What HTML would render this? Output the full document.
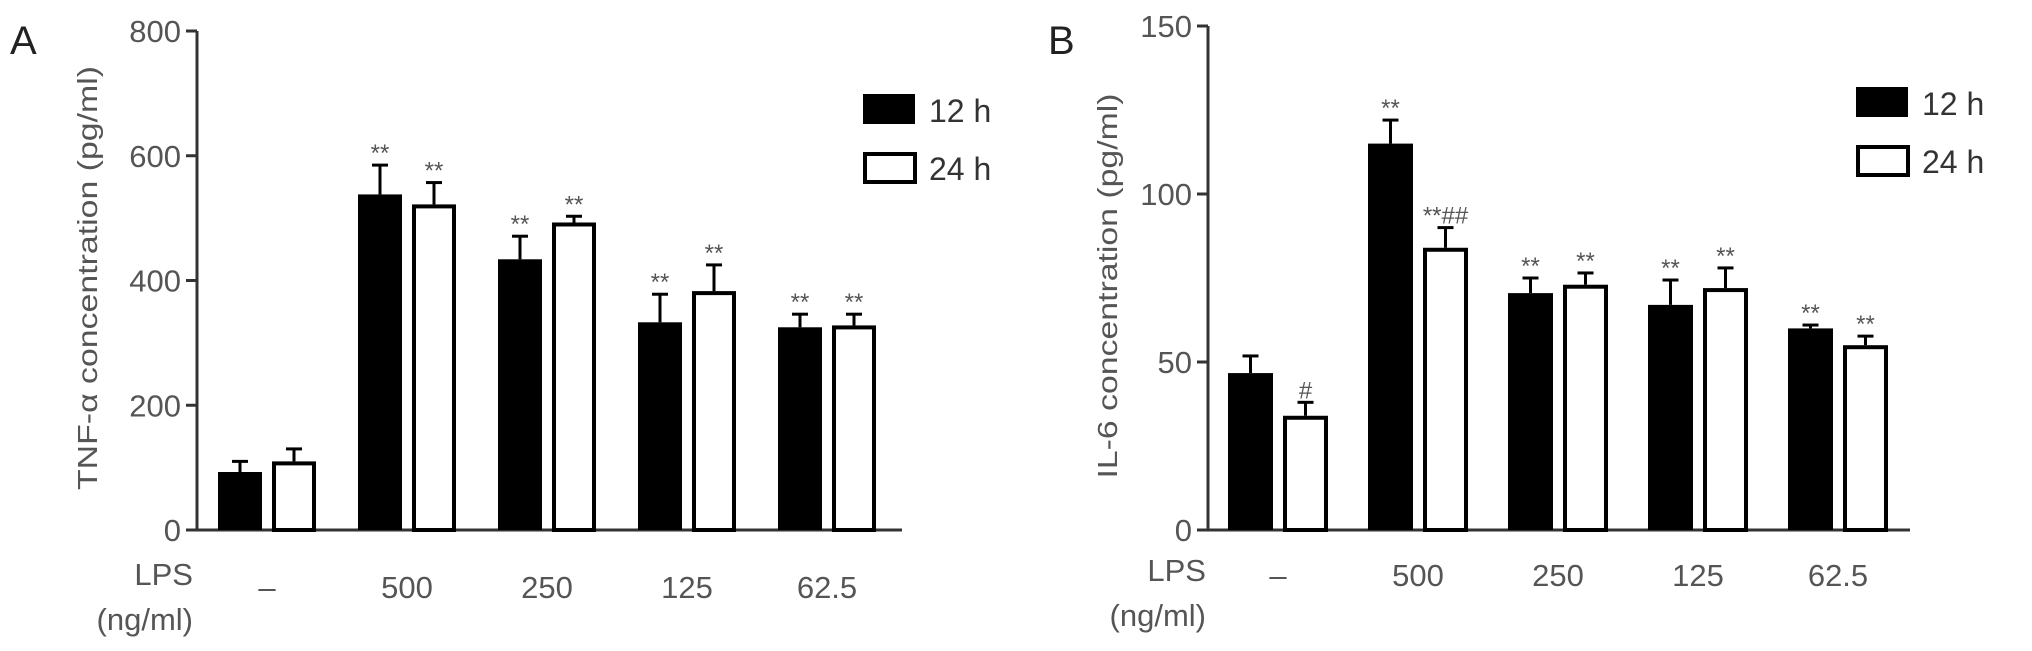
<!DOCTYPE html>
<html><head><meta charset="utf-8"><style>
html,body{margin:0;padding:0;background:#fff;}
svg{display:block;font-family:"Liberation Sans",Arial,sans-serif;}
</style></head><body>
<svg id="fig" width="2032" height="651" viewBox="0 0 2032 651"></svg>
<script>
const categories = ["\u2013","500","250","125","62.5"];
const seriesNames = ["12 h","24 h"];
const tnf12 = [93, 538, 434, 333, 325];
const tnf12Err = [110, 585, 471, 378, 346];
const tnf24 = [110, 522, 493, 383, 328];
const tnf24Err = [130, 557, 503, 425, 346];
const tnf12Sig = ["", "**", "**", "**", "**"];
const tnf24Sig = ["", "**", "**", "**", "**"];
const tnfTicks = [0, 200, 400, 600, 800];
const il12 = [46.7, 115, 70.5, 67, 60];
const il12Err = [51.8, 122, 75, 74.4, 61];
const il24 = [34, 84, 73, 72, 55];
const il24Err = [38, 90, 76.5, 78, 57.7];
const il12Sig = ["", "**", "**", "**", "**"];
const il24Sig = ["#", "**##", "**", "**", "**"];
const ilTicks = [0, 50, 100, 150];

const NS = "http://www.w3.org/2000/svg";
const svg = document.getElementById("fig");
function mk(tag, attrs, parent, text){
  const e = document.createElementNS(NS, tag);
  for (const k in attrs) e.setAttribute(k, attrs[k]);
  if (text !== undefined) e.textContent = text;
  (parent || svg).appendChild(e);
  return e;
}

function panel(p){
  const g = mk("g", {});
  
  
  const y = v => p.y0 - (v - 0) / p.max * (p.y0 - p.yTop);
  const gx = i => p.g0 + i * p.period;
  const L = mk("text", {x:p.letterX, y:54, "font-size":40, fill:"#222"}, g, p.letter);
  
  
  const ya = mk("line", {x1:p.ax, y1:p.yTop, x2:p.ax, y2:p.y0 + 1.5, stroke:"#333", "stroke-width":3}, g);
  
  
  const xa = mk("line", {x1:p.ax - 11, y1:p.y0, x2:p.xEnd, y2:p.y0, stroke:"#333", "stroke-width":3}, g);
  
  
  p.ticks.forEach(t => {
    const tl = mk("line", {x1:p.ax - 11, y1:y(t), x2:p.ax, y2:y(t), stroke:"#333", "stroke-width":3}, g);
    
    
    const tt = mk("text", {x:p.ax - 16, y:y(t) + 11, "font-size":31, fill:"#555", "text-anchor":"end"}, g, String(t));
    
    
  });
  const yt = mk("text", {x:0, y:0, "font-size":28, fill:"#555", "text-anchor":"middle",
    transform:`translate(${p.ytX},${p.ytY}) rotate(-90)`, textLength:p.ytLen, lengthAdjust:"spacingAndGlyphs"}, g, p.yTitle);
  
  
  const series = [[p.s1, p.e1, p.sig1, 0], [p.s2, p.e2, p.sig2, 1]];
  categories.forEach((c, i) => {
    series.forEach(([vals, errs, sigs, si]) => {
      const bx = gx(i) + si * p.step;
      const cx = bx + p.bw / 2;
      const top = y(vals[i]);
      const et = y(errs[i]);
      const el = mk("line", {x1:cx, y1:top, x2:cx, y2:et, stroke:"#000", "stroke-width":3}, g);
      
      
      const ec = mk("line", {x1:cx - 8, y1:et, x2:cx + 8, y2:et, stroke:"#000", "stroke-width":3}, g);
      
      
      let r;
      if (si === 0) r = mk("rect", {x:bx, y:top, width:p.bw, height:p.y0 - top, fill:"#000"}, g);
      else r = mk("rect", {x:bx + 2, y:top + 2, width:p.bw - 4, height:p.y0 - top - 2, fill:"#fff", stroke:"#000", "stroke-width":4}, g);
      
      
      if (sigs[i]) {
        const s = mk("text", {x:cx, y:et - 4, "font-size":24, fill:"#555", "text-anchor":"middle"}, g, sigs[i]);
        
        
      }
    });
    const xl = mk("text", {x:gx(i) + p.step / 2 + p.bw / 2, y:p.catY, "font-size":31, fill:"#555", "text-anchor":"middle"}, g, c);
    
    
  });
  const lps = mk("text", {x:p.lpsX, y:p.lpsY, "font-size":31, fill:"#555", "text-anchor":"end"}, g, "LPS");
  
  
  const un = mk("text", {x:p.lpsX, y:p.unitY, "font-size":31, fill:"#555", "text-anchor":"end"}, g, "(ng/ml)");
  
  
  seriesNames.forEach((n, k) => {
    const ly = p.legY + k * 58;
    let b;
    if (k === 0) b = mk("rect", {x:p.legX, y:ly, width:52, height:30, fill:"#000"}, g);
    else b = mk("rect", {x:p.legX + 2, y:ly + 2, width:50, height:28, fill:"#fff", stroke:"#000", "stroke-width":4}, g);
    
    
    const t = mk("text", {x:p.legX + 66, y:ly + 28, "font-size":32, fill:"#333"}, g, n);
    
    
  });
}

panel({id:"tnf", letter:"A", letterX:10, ax:197, y0:530, yTop:31, max:800, ticks:tnfTicks, xEnd:902,
  g0:218, period:140, step:54, bw:44,
  s1:tnf12, e1:tnf12Err, sig1:tnf12Sig, s2:tnf24, e2:tnf24Err, sig2:tnf24Sig,
  yTitle:"TNF-\u03B1 concentration (pg/ml)", ytX:97, ytY:278, ytLen:424,
  catY:598, lpsX:193, lpsY:585, unitY:630, legX:863, legY:94});

panel({id:"il6", letter:"B", letterX:1048, ax:1208, y0:530, yTop:26, max:150, ticks:ilTicks, xEnd:1910,
  g0:1228, period:140, step:55, bw:45,
  s1:il12, e1:il12Err, sig1:il12Sig, s2:il24, e2:il24Err, sig2:il24Sig,
  yTitle:"IL-6 concentration (pg/ml)", ytX:1117, ytY:286, ytLen:385,
  catY:586, lpsX:1206, lpsY:581, unitY:626, legX:1856, legY:87});
</script>
</body></html>
